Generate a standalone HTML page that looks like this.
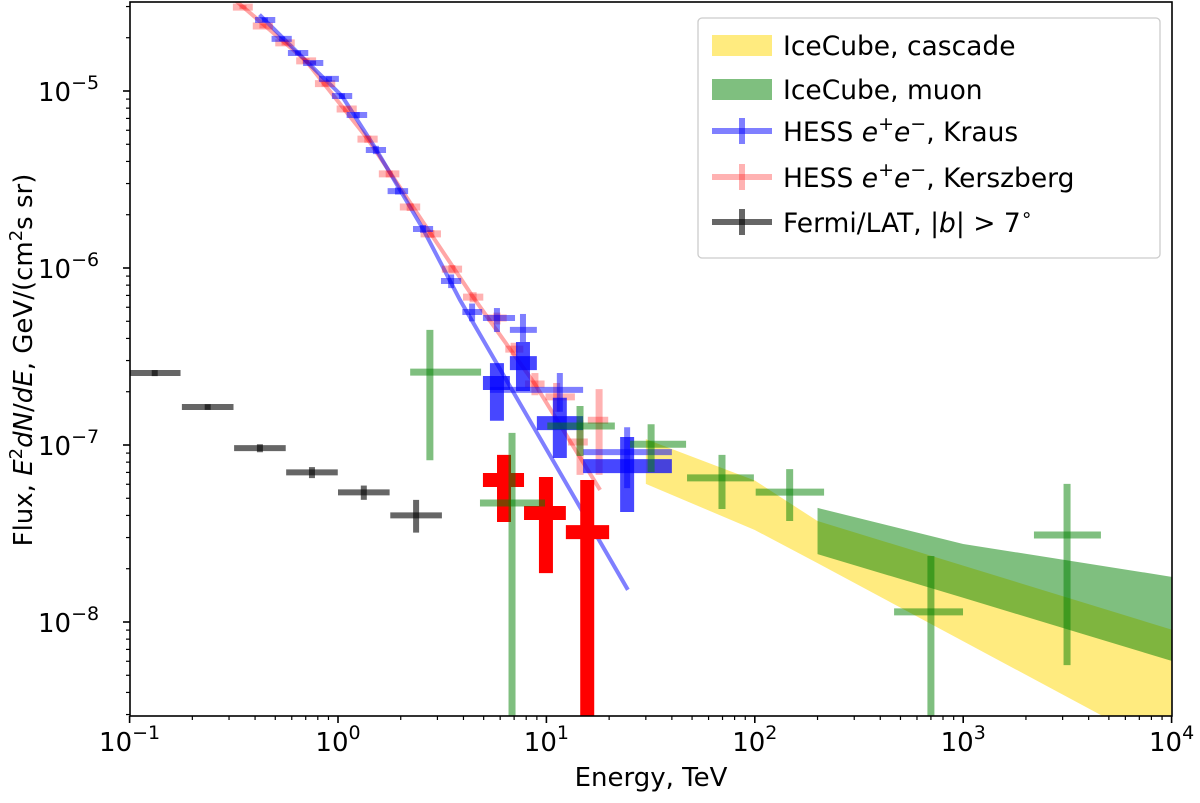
<!DOCTYPE html>
<html><head><meta charset="utf-8"><style>
html,body{margin:0;padding:0;background:#fff;overflow:hidden;width:1200px;height:803px;}
svg{display:block;overflow:hidden;font-family:"DejaVu Sans","Liberation Sans",sans-serif;}
</style></head><body>
<svg id="chart" width="1200" height="803" viewBox="0 0 1200 803" xmlns="http://www.w3.org/2000/svg">
<defs><clipPath id="clip"><rect x="130" y="2" width="1042" height="714"/></clipPath></defs>
<g id="plot" clip-path="url(#clip)"></g>
<g id="axes"></g>
<text x="651" y="786" font-size="26" text-anchor="middle">Energy, TeV</text>
<text transform="translate(32,360) rotate(-90)" font-size="26" text-anchor="middle">Flux, <tspan font-style="italic">E</tspan><tspan dy="-10" font-size="18">2</tspan><tspan dy="10" font-style="italic">dN</tspan>/<tspan font-style="italic">dE</tspan>, GeV/(cm<tspan dy="-10" font-size="18">2</tspan><tspan dy="10">s sr)</tspan></text>
<g>
<rect x="698" y="18" width="462" height="240" rx="4" fill="#fff" fill-opacity="0.8" stroke="#ccc" stroke-width="1.3"/>
<g><rect x="712" y="35" width="60" height="21" fill="#ffd700" fill-opacity="0.5"/><text x="783" y="55" font-size="26.5">IceCube, cascade</text></g>
<g><rect x="712" y="79" width="60" height="21" fill="#008000" fill-opacity="0.5"/><text x="783" y="99" font-size="26.5">IceCube, muon</text></g>
<g><line x1="712" x2="772" y1="131" y2="131" stroke="#00f" stroke-opacity="0.5" stroke-width="6"/><line x1="742" x2="742" y1="118" y2="144" stroke="#00f" stroke-opacity="0.5" stroke-width="6"/><text x="783" y="141" font-size="26.5">HESS <tspan font-style="italic">e</tspan><tspan dy="-11" font-size="19">+</tspan><tspan dy="11" font-style="italic">e</tspan><tspan dy="-11" font-size="19">−</tspan><tspan dy="11">, Kraus</tspan></text></g>
<g><line x1="712" x2="772" y1="177" y2="177" stroke="#f00" stroke-opacity="0.3" stroke-width="6"/><line x1="742" x2="742" y1="164" y2="190" stroke="#f00" stroke-opacity="0.3" stroke-width="6"/><text x="783" y="187" font-size="26.5">HESS <tspan font-style="italic">e</tspan><tspan dy="-11" font-size="19">+</tspan><tspan dy="11" font-style="italic">e</tspan><tspan dy="-11" font-size="19">−</tspan><tspan dy="11">, Kerszberg</tspan></text></g>
<g><line x1="712" x2="772" y1="222" y2="222" stroke="#000" stroke-opacity="0.6" stroke-width="6"/><line x1="742" x2="742" y1="209" y2="235" stroke="#000" stroke-opacity="0.6" stroke-width="6"/><text x="783" y="232" font-size="26.5">Fermi/LAT, |<tspan font-style="italic">b</tspan>| &gt; 7<tspan dy="-11" font-size="19">∘</tspan></text></g>
</g>
</svg>
<script>
// ---- data ----
const cascadeE=[30,100,200,10000];
const cascadeHi=[1.08e-7,6.3e-8,3.72e-8,9.06e-9];
const cascadeLo=[6.03e-8,3.31e-8,2.15e-8,1.82e-9];
const muonE=[200,1000,10000];
const muonHi=[4.41e-8,2.76e-8,1.80e-8];
const muonLo=[2.42e-8,1.37e-8,6.03e-9];

const icE=[2.76,6.84,14.5,31.8,69.6,147,700,3150];
const icElo=[2.22,4.80,10.1,25.2,47.3,101,466,2185];
const icEhi=[4.86,9.85,21.3,46.8,99,215,998,4580];
const icF=[2.58e-7,4.70e-8,1.28e-7,1.01e-7,6.52e-8,5.42e-8,1.14e-8,3.10e-8];
const icFlo=[8.2e-8,1e-10,8.67e-8,7.03e-8,4.35e-8,3.72e-8,1e-10,5.71e-9];
const icFhi=[4.47e-7,1.17e-7,1.66e-7,1.31e-7,8.8e-8,7.31e-8,2.36e-8,6.03e-8];

const fermiE=[0.132,0.237,0.422,0.75,1.33,2.37];
const fermiF=[2.55e-7,1.64e-7,9.6e-8,7.0e-8,5.4e-8,4.0e-8];
const fermiFlo=[2.45e-7,1.58e-7,9.1e-8,6.5e-8,4.9e-8,3.2e-8];
const fermiFhi=[2.65e-7,1.70e-7,1.01e-7,7.5e-8,5.9e-8,4.9e-8];

const krE=[0.446,0.539,0.643,0.759,0.905,1.045,1.23,1.52,1.94,2.56,3.49,4.40,5.79,7.72,11.6,24.4];
const krElo=[0.40,0.48,0.575,0.68,0.81,0.935,1.10,1.36,1.73,2.29,3.12,3.95,4.96,6.68,5.36,15.0];
const krEhi=[0.50,0.60,0.72,0.85,1.01,1.17,1.38,1.70,2.17,2.86,3.90,4.92,7.07,9.0,15.0,40.0];
const krF=[2.52e-5,1.97e-5,1.64e-5,1.44e-5,1.17e-5,9.37e-6,7.32e-6,4.64e-6,2.72e-6,1.66e-6,8.45e-7,5.64e-7,5.22e-7,4.47e-7,2.05e-7,9.12e-8];
const krFlo=[2.45e-5,1.91e-5,1.59e-5,1.40e-5,1.13e-5,9.0e-6,7.0e-6,4.4e-6,2.6e-6,1.58e-6,7.7e-7,5.0e-7,4.35e-7,3.82e-7,1.54e-7,5.71e-8];
const krFhi=[2.60e-5,2.03e-5,1.69e-5,1.48e-5,1.21e-5,9.7e-6,7.6e-6,4.9e-6,2.85e-6,1.75e-6,9.2e-7,6.3e-7,5.94e-7,5.5e-7,2.55e-7,1.26e-7];

const kbE=[0.350,0.436,0.557,0.702,0.867,1.10,1.39,1.76,2.22,2.79,3.52,4.45,5.79,7.0,8.81,11.2,14.5,17.9];
const kbElo=[0.313,0.39,0.50,0.63,0.775,0.985,1.24,1.57,1.98,2.49,3.15,3.98,5.2,6.35,7.9,9.9,12.7,15.8];
const kbEhi=[0.39,0.487,0.62,0.785,0.97,1.23,1.55,1.97,2.48,3.12,3.94,4.98,6.45,7.75,9.8,13.7,15.8,19.8];
const kbF=[2.98e-5,2.33e-5,1.87e-5,1.48e-5,1.10e-5,7.91e-6,5.35e-6,3.40e-6,2.21e-6,1.56e-6,9.86e-7,6.85e-7,5.22e-7,3.48e-7,2.21e-7,1.87e-7,1.04e-7,1.38e-7];
const kbFlo=[2.9e-5,2.26e-5,1.81e-5,1.43e-5,1.06e-5,7.6e-6,5.1e-6,3.25e-6,2.1e-6,1.48e-6,9.3e-7,6.4e-7,4.8e-7,3.2e-7,1.91e-7,1.54e-7,6.78e-8,6.78e-8];
const kbFhi=[3.06e-5,2.40e-5,1.93e-5,1.53e-5,1.14e-5,8.2e-6,5.6e-6,3.55e-6,2.32e-6,1.64e-6,1.04e-6,7.3e-7,5.6e-7,3.78e-7,2.55e-7,2.24e-7,1.38e-7,2.07e-7];

const thkE=[5.79,7.72,11.6,24.4];
const thkElo=[4.96,6.68,9.0,15.0];
const thkEhi=[6.68,9.0,15.0,40.0];
const thkF=[2.24e-7,2.90e-7,1.33e-7,7.6e-8];
const thkFlo=[1.37e-7,2.02e-7,8.45e-8,4.18e-8];
const thkFhi=[2.90e-7,3.82e-7,1.85e-7,1.11e-7];

const redE=[6.26,9.95,15.7];
const redElo=[4.96,7.81,12.4];
const redEhi=[7.81,12.4,20.0];
const redF=[6.34e-8,4.13e-8,3.22e-8];
const redFlo=[3.67e-8,1.89e-8,1e-10];
const redFhi=[8.79e-8,6.6e-8,6.34e-8];

const blueFitE=[0.42,0.643,1.045,1.52,2.56,3.85,24.6];
const blueFitF=[2.7e-5,1.64e-5,9.37e-6,4.7e-6,1.66e-6,6.59e-7,1.52e-8];
const pinkFitE=[0.32,0.702,1.39,2.79,4.45,8.81,18.1];
const pinkFitF=[3.27e-5,1.48e-5,5.35e-6,1.56e-6,6.85e-7,2.21e-7,5.57e-8];

const xTickExp=[-1,0,1,2,3,4];
const yTickExp=[-8,-7,-6,-5];

// ---- scales ----
const X0=130,X1=1172,Y0=2,Y1=716;
function sx(e){return 338+(Math.log10(e))*208.4;}
function sy(f){return 91+(-5-Math.log10(f))*177;}
const NS="http://www.w3.org/2000/svg";
function mk(tag,attrs,parent){const el=document.createElementNS(NS,tag);for(const k in attrs)el.setAttribute(k,attrs[k]);parent.appendChild(el);return el;}
const plot=document.getElementById('plot'),axes=document.getElementById('axes');

function band(E,hi,lo,color,op,name){
  let pts=E.map((e,i)=>sx(e)+','+sy(hi[i]));
  for(let i=E.length-1;i>=0;i--)pts.push(sx(E[i])+','+sy(lo[i]));
  const p=mk('polygon',{points:pts.join(' '),fill:color,'fill-opacity':op},plot);
  
  
}
function errs(E,Elo,Ehi,F,Flo,Fhi,color,op,lw,name){
  const g=mk('g',{},plot);
  
  
  for(let i=0;i<E.length;i++){
    const h=mk('line',{x1:sx(Elo[i]),x2:sx(Ehi[i]),y1:sy(F[i]),y2:sy(F[i]),stroke:color,'stroke-opacity':op,'stroke-width':lw},g);
    
    
    const v=mk('line',{x1:sx(E[i]),x2:sx(E[i]),y1:sy(Flo[i]),y2:sy(Fhi[i]),stroke:color,'stroke-opacity':op,'stroke-width':lw},g);
    
    
  }
}
function line(E,F,color,op,lw,name){
  const p=mk('polyline',{points:E.map((e,i)=>sx(e)+','+sy(F[i])).join(' '),fill:'none',stroke:color,'stroke-opacity':op,'stroke-width':lw},plot);
  
  
}

band(cascadeE,cascadeHi,cascadeLo,'#ffd700',0.5,'icecube-cascade-band');
band(muonE,muonHi,muonLo,'#008000',0.5,'icecube-muon-band');
line(pinkFitE,pinkFitF,'#ff0000',0.35,4,'kerszberg-fit-line');
line(blueFitE,blueFitF,'#0000ff',0.5,4,'kraus-fit-line');
errs(fermiE,fermiE.map(e=>e/1.33),fermiE.map(e=>e*1.33),fermiF,fermiFlo,fermiFhi,'#000',0.6,6,'fermi-lat-points');
errs(kbE,kbElo,kbEhi,kbF,kbFlo,kbFhi,'#ff0000',0.3,7,'hess-kerszberg-points');
errs(krE,krElo,krEhi,krF,krFlo,krFhi,'#0000ff',0.5,6,'hess-kraus-points');
errs(thkE,thkElo,thkEhi,thkF,thkFlo,thkFhi,'#0000ff',0.72,14,'hess-kraus-thick-points');
errs(redE,redElo,redEhi,redF,redFlo,redFhi,'#ff0000',1,14,'red-points');
errs(icE,icElo,icEhi,icF,icFlo,icFhi,'#008000',0.5,7,'icecube-points');

// ---- axes ----
const fr=mk('rect',{x:X0,y:Y0,width:X1-X0,height:Y1-Y0,fill:'none',stroke:'#000','stroke-width':1.6},axes);


for(let d=-1;d<=4;d++){
  for(let m=1;m<10;m++){
    const e=m*Math.pow(10,d); const x=sx(e);
    if(x<X0-0.5||x>X1+0.5)continue;
    mk('line',{x1:x,x2:x,y1:Y1,y2:Y1+(m===1?7:4),stroke:'#000','stroke-width':m===1?1.6:1.2},axes);
  }
}
for(let d=-9;d<=-5;d++){
  for(let m=1;m<10;m++){
    const f=m*Math.pow(10,d); const y=sy(f);
    if(y<Y0-0.5||y>Y1+0.5)continue;
    mk('line',{x1:X0,x2:X0-(m===1?7:4),y1:y,y2:y,stroke:'#000','stroke-width':m===1?1.6:1.2},axes);
  }
}
xTickExp.forEach(p=>{
  const t=mk('text',{x:sx(Math.pow(10,p)),y:751,'font-size':26,'text-anchor':'middle'},axes);
  
  
  t.innerHTML='10<tspan dy="-12" font-size="19">'+(p<0?'\u2212'+(-p):p)+'</tspan>';
});
yTickExp.forEach(p=>{
  const t=mk('text',{x:38,y:sy(Math.pow(10,p))+10,'font-size':26},axes);
  
  
  t.innerHTML='10<tspan dy="-12" font-size="19">\u2212'+(-p)+'</tspan>';
});
</script>
</body></html>
